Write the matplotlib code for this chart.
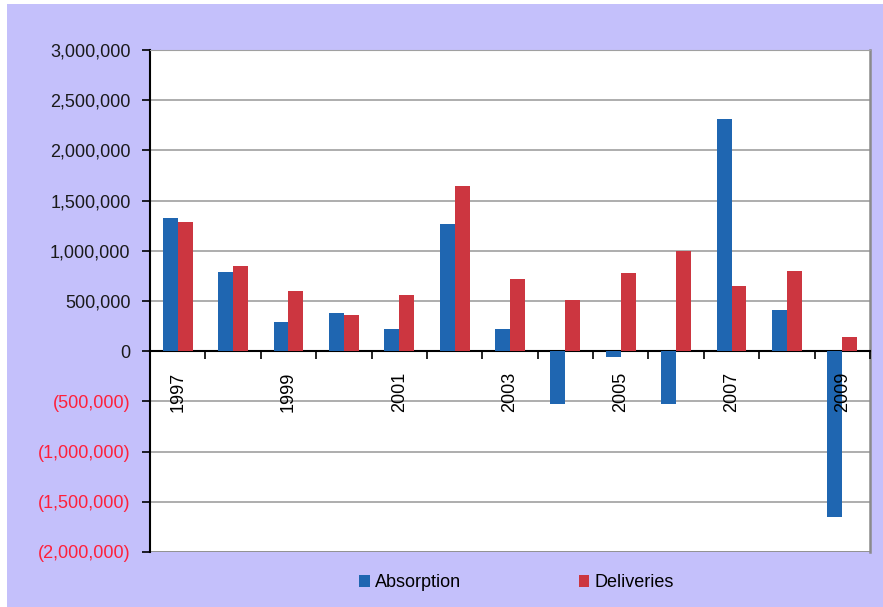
import matplotlib.pyplot as plt
import numpy as np
from matplotlib.patches import Rectangle
from matplotlib.ticker import FuncFormatter, MultipleLocator

plt.rcParams['font.family'] = ['Liberation Sans', 'DejaVu Sans']

years = list(range(1997, 2010))
absorption = [1330000, 790000, 290000, 380000, 220000, 1270000, 220000,
              -530000, -60000, -530000, 2310000, 410000, -1650000]
deliveries = [1290000, 850000, 600000, 360000, 560000, 1650000, 720000,
              510000, 780000, 1000000, 650000, 800000, 140000]

BG = '#c4c0fb'
BLUE = '#1f66b1'
RED = '#cc3640'

fig = plt.figure(figsize=(8.83, 6.07), dpi=100, facecolor='white')
# lavender panel, small white margin top/left like the source
fig.patches.append(Rectangle((7 / 883, 0), 1, 1 - 4 / 607, transform=fig.transFigure,
                             facecolor=BG, edgecolor='none', zorder=-10))

ax = fig.add_axes([150 / 883, 1 - 552 / 607, 720 / 883, 502 / 607])
ax.set_facecolor('white')

x = np.arange(len(years))
w = 0.27
ax.bar(x - w / 2, absorption, w, color=BLUE, label='Absorption', zorder=3)
ax.bar(x + w / 2, deliveries, w, color=RED, label='Deliveries', zorder=3)

ax.set_xlim(-0.5, len(years) - 0.5)
ax.set_ylim(-2000000, 3000000)
ax.yaxis.set_major_locator(MultipleLocator(500000))


def fmt(v, pos):
    if v < 0:
        return '({:,.0f})'.format(-v)
    return '{:,.0f}'.format(v)


ax.yaxis.set_major_formatter(FuncFormatter(fmt))
for lbl, v in zip(ax.get_yticklabels(), ax.get_yticks()):
    lbl.set_color('#ff1f3a' if v < 0 else '#1a1a1a')
ax.tick_params(axis='y', direction='out', length=6, width=1.2, labelsize=13, pad=8)

ax.grid(axis='y', color='#a0a0a0', linewidth=1.2, zorder=0)
ax.set_axisbelow(True)

# x axis sits on zero
ax.spines['bottom'].set_position(('data', 0))
ax.spines['bottom'].set_linewidth(1.5)
ax.spines['left'].set_linewidth(1.5)
ax.spines['top'].set_color('#a0a0a0')
ax.spines['right'].set_color('#8a8a8a')
ax.spines['right'].set_linewidth(1.8)
ax.axhline(-2000000, color='#8a8a8a', linewidth=1.8, zorder=1)

ax.set_xticks(x)
ax.set_xticklabels([str(y) if i % 2 == 0 else '' for i, y in enumerate(years)],
                   rotation=90, fontsize=13)
ax.tick_params(axis='x', which='major', length=0, pad=15)
ax.set_xticks(np.arange(len(years) + 1) - 0.5, minor=True)
ax.tick_params(axis='x', which='minor', direction='out', length=6, width=1.2)
for lbl in ax.get_xticklabels():
    lbl.set_va('top')
# year labels sit over the bars (2009 label crosses the blue bar)
ax.xaxis.set_zorder(4)

fig.legend(loc='center', bbox_to_anchor=(0.585, 0.04), ncol=2, frameon=False,
           fontsize=13, handlelength=0.6, handleheight=0.6, handletextpad=0.3,
           columnspacing=6.5)

fig.savefig('out.png', dpi=100, facecolor=fig.get_facecolor())
